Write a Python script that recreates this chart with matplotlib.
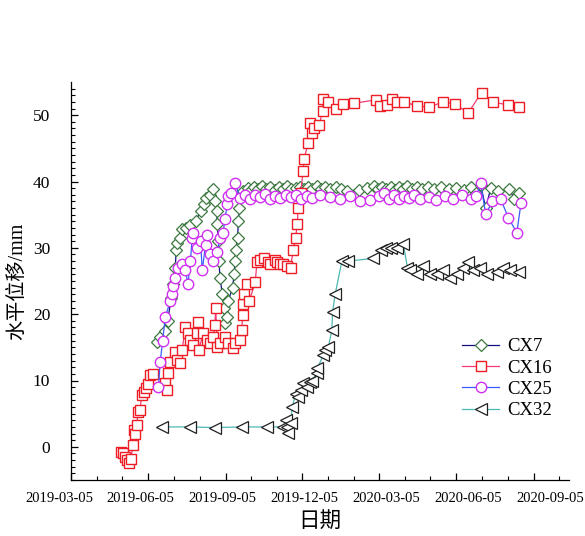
import numpy as np
import matplotlib
matplotlib.use("Agg")
from matplotlib import pyplot as plt
import matplotlib.dates as mdates
from matplotlib.transforms import ScaledTranslation

plt.rcParams['font.family'] = ['Liberation Serif', 'Noto Sans CJK SC']

# CX7
cx7_dates = ["2019-06-15", "2019-06-19", "2019-06-25", "2019-06-28", "2019-07-02", "2019-07-04",
             "2019-07-07", "2019-07-08", "2019-07-09", "2019-07-13", "2019-07-15", "2019-07-20",
             "2019-07-25", "2019-07-31", "2019-08-06", "2019-08-10", "2019-08-13", "2019-08-17",
             "2019-08-21", "2019-08-23", "2019-08-25", "2019-08-26", "2019-08-27", "2019-08-28",
             "2019-08-29", "2019-09-01", "2019-09-03", "2019-09-04", "2019-09-07", "2019-09-08",
             "2019-09-13", "2019-09-15", "2019-09-16", "2019-09-17", "2019-09-19", "2019-09-20",
             "2019-09-21", "2019-09-22", "2019-09-26", "2019-10-01", "2019-10-05", "2019-10-09",
             "2019-10-13", "2019-10-18", "2019-10-23", "2019-10-28", "2019-11-02", "2019-11-07",
             "2019-11-12", "2019-11-17", "2019-11-22", "2019-11-27", "2019-12-02", "2019-12-07",
             "2019-12-12", "2019-12-17", "2019-12-22", "2019-12-27", "2020-01-01", "2020-01-07",
             "2020-01-14", "2020-01-20", "2020-01-27", "2020-02-10", "2020-02-20", "2020-02-28",
             "2020-03-04", "2020-03-09", "2020-03-14", "2020-03-19", "2020-03-24", "2020-03-29",
             "2020-04-03", "2020-04-08", "2020-04-13", "2020-04-19", "2020-04-25", "2020-05-02",
             "2020-05-10", "2020-05-18", "2020-05-27", "2020-06-05", "2020-06-14", "2020-06-22",
             "2020-06-29", "2020-07-04", "2020-07-10", "2020-07-16", "2020-07-25", "2020-08-07",
             "2020-08-13", "2020-08-19"]
cx7_vals = [15.8, 16.5, 17.5, 19.0, 22.4, 24.6,
            27.0, 29.6, 30.8, 31.5, 32.8, 33.0,
            33.5, 34.0, 35.5, 36.6, 37.5, 38.0,
            38.9, 37.0, 35.6, 33.6, 31.0, 28.0,
            25.5, 23.0, 21.0, 18.6, 19.5, 22.0,
            24.0, 26.0, 28.0, 29.6, 31.5, 34.0,
            36.0, 37.8, 38.6, 39.0, 38.7, 39.2,
            38.9, 39.3, 38.8, 39.1, 38.7, 39.2,
            38.9, 39.3, 38.8, 39.0, 39.2, 38.8,
            39.1, 38.9, 39.3, 38.9, 39.1, 38.8,
            39.2, 38.9, 38.6, 38.7, 39.0, 39.3,
            38.9, 39.2, 38.8, 39.1, 38.7, 39.2,
            38.9, 39.3, 38.8, 39.1, 38.9, 39.2,
            38.8, 39.1, 38.9, 39.0, 38.7, 39.1,
            38.2, 39.5, 36.0, 39.0, 38.6, 38.9,
            37.4, 38.3]

# CX16
cx16_dates = ["2019-05-03", "2019-05-06", "2019-05-08", "2019-05-11", "2019-05-13", "2019-05-15",
              "2019-05-18", "2019-05-19", "2019-05-20", "2019-05-22", "2019-05-24", "2019-05-26",
              "2019-05-28", "2019-05-31", "2019-06-02", "2019-06-04", "2019-06-07", "2019-06-11",
              "2019-06-25", "2019-06-27", "2019-06-28", "2019-07-01", "2019-07-07", "2019-07-09",
              "2019-07-13", "2019-07-15", "2019-07-19", "2019-07-22", "2019-07-25", "2019-07-28",
              "2019-08-02", "2019-08-03", "2019-08-04", "2019-08-09", "2019-08-14", "2019-08-17",
              "2019-08-21", "2019-08-23", "2019-08-24", "2019-08-26", "2019-08-29", "2019-09-04",
              "2019-09-08", "2019-09-13", "2019-09-16", "2019-09-22", "2019-09-24", "2019-09-25",
              "2019-09-26", "2019-09-27", "2019-09-30", "2019-10-03", "2019-10-10", "2019-10-12",
              "2019-10-16", "2019-10-20", "2019-10-25", "2019-10-28", "2019-11-02", "2019-11-05",
              "2019-11-09", "2019-11-12", "2019-11-17", "2019-11-21", "2019-11-24", "2019-11-27",
              "2019-11-29", "2019-11-30", "2019-12-03", "2019-12-06", "2019-12-07", "2019-12-12",
              "2019-12-14", "2019-12-17", "2019-12-19", "2019-12-25", "2019-12-29", "2019-12-30",
              "2020-01-05", "2020-01-14", "2020-01-22", "2020-02-05", "2020-03-01", "2020-03-06",
              "2020-03-15", "2020-03-21", "2020-03-27", "2020-04-04", "2020-04-19", "2020-05-04",
              "2020-05-20", "2020-06-04", "2020-06-19", "2020-07-05", "2020-07-19", "2020-08-06",
              "2020-08-19"]
cx16_vals = [-0.8, -1.0, -1.5, -2.0, -2.4, -1.8,
             0.3, 2.5, 2.0, 3.3, 5.3, 5.5,
             7.8, 8.3, 8.9, 9.5, 10.8, 11.0,
             9.6, 8.6, 11.1, 12.8, 14.3, 13.1,
             12.6, 14.6, 18.0, 17.1, 16.1, 15.3,
             17.1, 18.8, 14.6, 17.1, 16.1, 15.6,
             16.5, 18.3, 21.0, 15.0, 15.6, 16.5,
             15.6, 14.9, 15.6, 16.1, 17.6, 19.8,
             21.6, 23.1, 24.6, 22.0, 24.8, 27.8,
             28.1, 28.4, 27.8, 27.6, 28.2, 27.8,
             27.5, 27.6, 27.2, 27.0, 29.6, 31.5,
             33.6, 36.0, 38.3, 41.6, 43.4, 45.8,
             48.8, 47.3, 48.0, 48.5, 50.6, 52.4,
             52.0, 51.0, 51.7, 51.8, 52.3, 51.4,
             51.5, 52.4, 52.0, 52.0, 51.4, 51.2,
             52.0, 51.7, 50.3, 53.4, 52.0, 51.5,
             51.2]

# CX25
cx25_dates = ["2019-06-17", "2019-06-19", "2019-06-22", "2019-06-25", "2019-07-01", "2019-07-03",
              "2019-07-04", "2019-07-07", "2019-07-10", "2019-07-15", "2019-07-19", "2019-07-22",
              "2019-07-25", "2019-07-27", "2019-07-28", "2019-08-02", "2019-08-06", "2019-08-08",
              "2019-08-12", "2019-08-14", "2019-08-17", "2019-08-21", "2019-08-26", "2019-08-29",
              "2019-09-02", "2019-09-04", "2019-09-07", "2019-09-08", "2019-09-11", "2019-09-16",
              "2019-09-22", "2019-09-28", "2019-10-04", "2019-10-10", "2019-10-16", "2019-10-22",
              "2019-10-28", "2019-11-03", "2019-11-09", "2019-11-15", "2019-11-21", "2019-11-27",
              "2019-12-03", "2019-12-10", "2019-12-17", "2019-12-26", "2020-01-07", "2020-01-19",
              "2020-01-31", "2020-02-12", "2020-02-24", "2020-03-05", "2020-03-11", "2020-03-17",
              "2020-03-23", "2020-03-29", "2020-04-04", "2020-04-10", "2020-04-16", "2020-04-23",
              "2020-05-03", "2020-05-12", "2020-05-23", "2020-06-01", "2020-06-12", "2020-06-22",
              "2020-06-29", "2020-07-04", "2020-07-10", "2020-07-18", "2020-07-28", "2020-08-06",
              "2020-08-16", "2020-08-21"]
cx25_vals = [9.0, 12.8, 16.0, 19.5, 22.0, 23.0,
             24.3, 25.5, 27.0, 27.6, 26.6, 24.6,
             28.0, 31.5, 32.3, 30.0, 31.0, 26.6,
             30.5, 32.0, 29.0, 28.0, 29.3, 31.5,
             32.3, 34.4, 36.6, 37.8, 38.2, 39.8,
             37.5, 38.0, 37.4, 37.9, 37.6, 38.1,
             37.3, 37.8, 37.5, 38.0, 37.6, 37.9,
             37.4, 37.8, 37.5, 37.9, 37.6, 37.3,
             37.8, 37.0, 37.2, 37.8, 38.2, 37.4,
             37.9, 37.3, 37.8, 37.5, 38.0, 37.3,
             37.7, 37.2, 37.8, 37.4, 37.9, 37.3,
             37.8, 39.7, 35.1, 37.0, 37.3, 34.5,
             32.3, 36.8]

# CX32
cx32_dates = ["2019-06-21", "2019-07-25", "2019-08-23", "2019-09-24", "2019-10-24", "2019-11-12",
              "2019-11-15", "2019-11-17", "2019-11-18", "2019-11-21", "2019-11-23", "2019-11-27",
              "2019-11-30", "2019-12-04", "2019-12-06", "2019-12-10", "2019-12-14", "2019-12-17",
              "2019-12-22", "2019-12-23", "2019-12-30", "2020-01-01", "2020-01-05", "2020-01-09",
              "2020-01-10", "2020-01-13", "2020-01-21", "2020-01-28", "2020-02-27", "2020-03-07",
              "2020-03-13", "2020-03-19", "2020-03-27", "2020-04-03", "2020-04-08", "2020-04-11",
              "2020-04-19", "2020-04-27", "2020-05-05", "2020-05-13", "2020-05-20", "2020-05-29",
              "2020-06-06", "2020-06-13", "2020-06-19", "2020-06-25", "2020-07-03", "2020-07-12",
              "2020-07-24", "2020-07-31", "2020-08-08", "2020-08-18"]
cx32_vals = [3.0, 3.0, 2.9, 3.0, 3.0, 3.0,
             4.0, 3.0, 2.1, 3.6, 6.0, 8.0,
             7.5, 8.6, 9.6, 9.0, 9.8, 10.0,
             11.1, 11.9, 13.8, 14.6, 15.0, 17.6,
             20.3, 23.0, 28.0, 28.0, 28.4, 29.6,
             29.9, 30.0, 30.0, 30.6, 27.0, 26.6,
             26.0, 27.3, 26.0, 26.0, 26.6, 25.5,
             26.0, 27.0, 27.8, 26.6, 27.0, 26.0,
             26.3, 26.9, 26.6, 26.3]

tick_dates = ["2019-03-05", "2019-06-05", "2019-09-05", "2019-12-05",
              "2020-03-05", "2020-06-05", "2020-09-05"]

fig = plt.figure(figsize=(5.85, 5.36), dpi=100)
ax = fig.add_axes([71/585, 1-480/536, (569-71)/585, (480-82)/536])

ms = 7.5
ax.plot(np.array(cx7_dates, dtype='datetime64[D]'), cx7_vals, color='#101080', lw=0.9,
        marker='D', ms=6.3, mfc='white', mec='#3c7840', mew=0.9, label='CX7')
ax.plot(np.array(cx16_dates, dtype='datetime64[D]'), cx16_vals, color='#f03c78', lw=0.9,
        marker='s', ms=ms, mfc='white', mec='#ee1c24', mew=1.0, label='CX16')
ax.plot(np.array(cx25_dates, dtype='datetime64[D]'), cx25_vals, color='#3a5cff', lw=0.9,
        marker='o', ms=ms, mfc='white', mec='#d030f0', mew=1.0, label='CX25')
ax.plot(np.array(cx32_dates, dtype='datetime64[D]'), cx32_vals, color='#4cb8b4', lw=0.9,
        marker='<', ms=8, mfc='white', mec='#202020', mew=0.9, label='CX32')

ax.set_xlim(np.datetime64("2019-03-05"), np.datetime64("2020-10-17"))
ax.set_ylim(-5, 55)

ax.set_xticks(np.array(tick_dates, dtype='datetime64[D]'))
ax.xaxis.set_major_formatter(mdates.DateFormatter('%Y-%m-%d'))
ax.xaxis.set_minor_locator(mdates.MonthLocator(bymonthday=5))
ax.set_yticks(np.arange(0, 51, 10))
ax.set_yticks(np.arange(-5, 55, 1), minor=True)

ax.tick_params(axis='both', which='both', direction='in', colors='black')
ax.tick_params(axis='both', which='major', length=5, width=0.9)
ax.tick_params(axis='both', which='minor', length=3, width=0.8)
ax.tick_params(axis='x', labelsize=10.5, pad=9)
ax.tick_params(axis='y', labelsize=12.5, pad=15)

for s in ['top', 'right']:
    ax.spines[s].set_visible(False)
for s in ['left', 'bottom']:
    ax.spines[s].set_linewidth(0.9)

# the tick labels sit slightly spread out compared to the ticks
offsets = [-12, -8, -3, 2, 7, 12, 17]
for lab, dx in zip(ax.get_xticklabels(), offsets):
    lab.set_transform(lab.get_transform() + ScaledTranslation(dx/100, 0, fig.dpi_scale_trans))

ax.set_xlabel('日期', fontsize=15.5, labelpad=5)
ax.set_ylabel('水平位移/mm', fontsize=14.5, labelpad=4)

ax.legend(loc='upper left', bbox_to_anchor=(0.77, 0.375), frameon=False, numpoints=1,
          fontsize=13.5, handlelength=2.0, handletextpad=0.4, labelspacing=0.22,
          borderaxespad=0)

fig.savefig('out.png', dpi=100)
